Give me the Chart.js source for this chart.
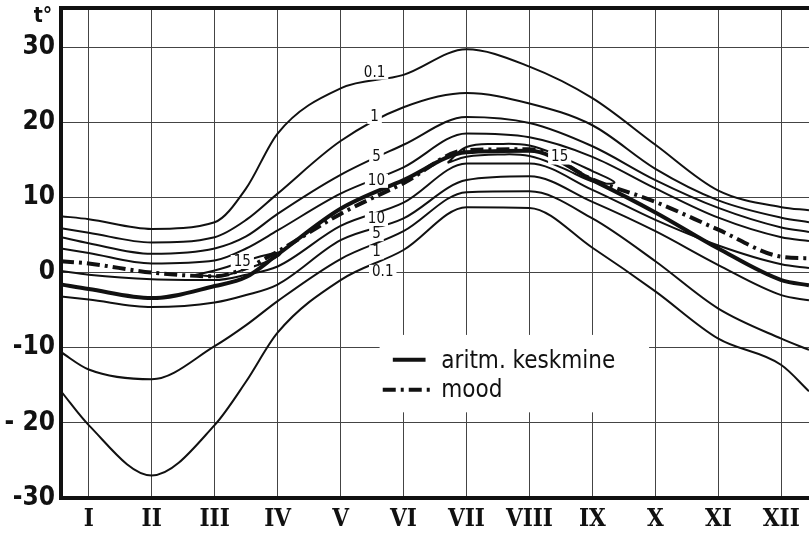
<!DOCTYPE html>
<html>
<head>
<meta charset="utf-8">
<script src="https://cdn.jsdelivr.net/npm/chart.js@4.4.1/dist/chart.umd.min.js"></script>
<style>
  html, body { margin: 0; padding: 0; background: #fff; }
  #wrap { width: 809px; height: 538px; }
</style>
</head>
<body>
<div id="wrap"><canvas id="myChart" width="809" height="538"></canvas></div>
<script>
// month positions (0 = I ... 11 = XII), values in degrees
const xPos = [-0.44, 0, 1, 2, 2.5, 3, 4, 5, 6, 7, 8, 9, 10, 11, 11.44];
const monthLabels = ['I','II','III','IV','V','VI','VII','VIII','IX','X','XI','XII'];
const yTicks = [-30, -20, -10, 0, 10, 20, 30];
const yTickLabels = ['-30', '- 20', '-10', '0', '10', '20', '30'];

const upper01 = [7.5, 7.1, 5.8, 6.7, 11.2, 18.5, 24.5, 26.3, 29.7, 27.4, 23.2, 17.0, 10.9, 8.7, 8.3];
const upper1  = [5.9, 5.3, 4.0, 4.7, 7.0, 10.5, 17.5, 22.0, 23.9, 22.5, 19.6, 13.8, 9.6, 7.3, 6.7];
const upper5  = [4.7, 3.9, 2.5, 3.2, 4.8, 7.8, 13.0, 17.0, 20.7, 19.9, 16.8, 12.3, 8.6, 6.0, 5.4];
const upper10 = [3.2, 2.6, 1.2, 1.6, 3.2, 5.6, 10.5, 14.0, 18.5, 18.0, 15.4, 11.2, 7.3, 4.7, 4.2];
const modeVals = [1.5, 1.2, 0.0, -0.5, 0.6, 2.8, 7.8, 11.9, 16.3, 16.4, 12.4, 9.4, 5.7, 2.1, 1.9];
const meanVals = [-1.6, -2.2, -3.4, -1.8, -0.6, 2.4, 8.5, 12.3, 16.0, 16.2, 12.3, 8.0, 3.2, -1.0, -1.7];
const lower10 = [0.2, -0.3, -0.9, -1.0, -0.3, 0.8, 6.2, 9.3, 14.5, 14.5, 11.0, 7.0, 3.6, 1.1, 0.6];
const lower5  = [-3.2, -3.6, -4.6, -4.0, -3.0, -1.6, 4.3, 7.2, 12.3, 12.8, 9.4, 5.5, 1.0, -3.0, -3.7];
const lower1  = [-10.6, -12.9, -14.2, -9.8, -7.0, -3.8, 1.8, 5.5, 10.7, 10.8, 7.2, 1.5, -4.8, -8.8, -10.3];
const lower01 = [-15.8, -20.3, -27.0, -20.3, -14.5, -8.0, -1.0, 3.0, 8.7, 8.6, 3.3, -2.5, -8.8, -12.3, -15.8];

// closed 15 % isolines
const loopAX = [1.7, 2.1, 2.5, 2.9, 3.05, 2.9, 2.5, 2.1, 1.7];
const loopAY = [-0.3, 0.5, 1.6, 2.5, 2.6, 1.7, 0.5, -0.5, -0.3];
const loopBX = [5.7, 6.0, 6.5, 7.0, 7.5, 8.0, 8.35, 8.05, 7.5, 7.0, 6.5, 6.0, 5.7];
const loopBY = [14.6, 16.7, 17.1, 16.9, 15.4, 13.5, 12.0, 12.0, 14.0, 15.5, 15.7, 15.4, 14.6];

// inline curve labels
const curveLabelText = ['0.1', '1', '5', '10', '10', '5', '1', '0.1', '15', '15'];
const curveLabelX = [4.54, 4.54, 4.57, 4.57, 4.57, 4.57, 4.57, 4.67, 2.44, 7.48];
const curveLabelY = [26.6, 20.7, 15.3, 12.2, 7.1, 5.1, 2.7, 0.1, 1.4, 15.3];

const ink = '#111';
const condensed = "'DejaVu Sans Condensed', 'Liberation Sans Narrow', sans-serif";

function toPoints(xs, ys){
    return xs.map(function(x, i){ return {x: x, y: ys[i]}; });
}

function curve(vals, width){
    return {
        data: toPoints(xPos, vals),
        borderColor: ink,
        borderWidth: width || 2,
        pointRadius: 0,
        fill: false,
        cubicInterpolationMode: 'monotone'
    };
}

function loop(xs, ys){
    return {
        data: toPoints(xs, ys),
        borderColor: ink,
        borderWidth: 2,
        pointRadius: 0,
        fill: false,
        tension: 0.4
    };
}

const modeSet = curve(modeVals, 4);
modeSet.borderDash = [13, 5, 3, 5];

const datasets = [
    curve(upper01), curve(upper1), curve(upper5), curve(upper10),
    curve(lower10), curve(lower5), curve(lower1), curve(lower01),
    loop(loopAX, loopAY), loop(loopBX, loopBY),
    curve(meanVals, 4), modeSet
];

const decor = {
    id: 'decor',
    beforeDatasetsDraw(chart){
        // blank area behind the legend
        const ctx = chart.ctx, x = chart.scales.x, y = chart.scales.y;
        const l = x.getPixelForValue(4.62), r = x.getPixelForValue(8.9);
        const t = y.getPixelForValue(-8.3), b = y.getPixelForValue(-18.6);
        ctx.save();
        ctx.fillStyle = '#fff';
        ctx.fillRect(l, t, r - l, b - t);
        ctx.restore();
    },
    afterDatasetsDraw(chart){
        const ctx = chart.ctx, x = chart.scales.x, y = chart.scales.y, area = chart.chartArea;
        ctx.save();
        // curve labels
        ctx.font = "15px " + condensed;
        ctx.textAlign = 'center';
        ctx.textBaseline = 'middle';
        curveLabelText.forEach(function(txt, i){
            const px = x.getPixelForValue(curveLabelX[i]);
            const py = y.getPixelForValue(curveLabelY[i]);
            const w = ctx.measureText(txt).width + 6;
            ctx.fillStyle = '#fff';
            ctx.fillRect(px - w / 2, py - 7, w, 14);
            ctx.fillStyle = ink;
            ctx.fillText(txt, px, py);
        });

        // legend
        const sx = x.getPixelForValue(4.83), ex = x.getPixelForValue(5.35);
        const ly1 = y.getPixelForValue(-11.6), ly2 = y.getPixelForValue(-15.6);
        ctx.strokeStyle = ink;
        ctx.lineWidth = 4;
        ctx.beginPath(); ctx.moveTo(sx, ly1); ctx.lineTo(ex, ly1); ctx.stroke();
        ctx.setLineDash([13, 5, 3, 5]);
        ctx.beginPath(); ctx.moveTo(x.getPixelForValue(4.67), ly2); ctx.lineTo(ex + 8, ly2); ctx.stroke();
        ctx.setLineDash([]);
        ctx.font = "24px " + condensed;
        ctx.textAlign = 'left';
        ctx.textBaseline = 'alphabetic';
        ctx.fillStyle = ink;
        const tx = x.getPixelForValue(5.6);
        ctx.fillText('aritm. keskmine', tx, ly1 + 8);
        ctx.fillText('mood', tx, ly2 + 7);

        // top frame and axis title
        ctx.lineWidth = 4;
        ctx.beginPath(); ctx.moveTo(area.left - 2, area.top); ctx.lineTo(area.right, area.top); ctx.stroke();
        ctx.font = "bold 21px " + condensed;
        ctx.textAlign = 'center';
        ctx.textBaseline = 'middle';
        ctx.fillText('t°', 43, 17);
        ctx.restore();
    }
};

function constructChart(){
    const config = {
        type: 'line',
        data: { datasets: datasets },
        options: {
            responsive: false,
            animation: false,
            devicePixelRatio: 1,
            layout: { padding: { top: 8, right: 0, bottom: 0, left: 0 } },
            plugins: { legend: { display: false }, tooltip: { enabled: false } },
            scales: {
                x: {
                    type: 'linear',
                    min: -0.44,
                    max: 11.44,
                    afterBuildTicks: function(s){ s.ticks = monthLabels.map(function(m, i){ return {value: i}; }); },
                    afterFit: function(s){ s.height = 40; s.paddingLeft = 0; s.paddingRight = 0; },
                    ticks: {
                        callback: function(v){ return monthLabels[v]; },
                        font: { family: "'DejaVu Serif Condensed', 'DejaVu Serif', serif", size: 24, weight: 'bold' },
                        color: ink,
                        padding: 7,
                        maxRotation: 0,
                        autoSkip: false
                    },
                    grid: { color: '#444', lineWidth: 1, drawTicks: false },
                    border: { display: true, width: 4, color: ink }
                },
                y: {
                    type: 'linear',
                    min: -30,
                    max: 35.2,
                    afterBuildTicks: function(s){ s.ticks = yTicks.map(function(v){ return {value: v}; }); },
                    afterFit: function(s){ s.width = 61; s.paddingTop = 0; s.paddingBottom = 0; },
                    ticks: {
                        callback: function(v){ return yTickLabels[yTicks.indexOf(v)]; },
                        font: { family: condensed, size: 26, weight: 'bold' },
                        color: ink,
                        padding: 6
                    },
                    grid: { color: '#444', lineWidth: 1, drawTicks: false },
                    border: { display: true, width: 4, color: ink }
                }
            }
        },
        plugins: [decor]
    };
    const chart = document.getElementById('myChart').getContext('2d');
    const myChart = new Chart(chart, config);
}
constructChart();
</script>
</body>
</html>
